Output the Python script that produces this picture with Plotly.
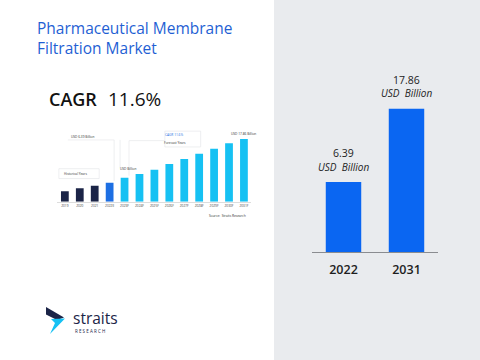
import math
import plotly.graph_objects as go

W, H = 480, 360

# ---- data ----
years = ["2022", "2031"]
market_size = [6.39, 17.86]          # USD Billion
cagr_text = "11.6%"

mini_years = ["2019", "2020", "2021", "2022E", "2023F", "2024F", "2025F",
              "2026F", "2027F", "2028F", "2029F", "2030F", "2031F"]
mini_values = [2.96, 3.82, 4.56, 5.41, 6.84, 7.89, 9.12, 10.74, 12.17,
               13.68, 15.10, 16.64, 17.86]

FONT = "Open Sans"


def px(x):
    return x / W


def py(y):
    return 1 - y / H


mini_colors = (["#1b2447"] * 3 + ["#1d6fe3"] + ["#16c1f3"] * (len(mini_years) - 4))

fig = go.Figure()

# main bars
fig.add_trace(go.Bar(
    x=years, y=market_size, marker=dict(color="#0a66f2", line=dict(width=0)),
    xaxis="x", yaxis="y", hoverinfo="skip", showlegend=False,
))

# mini chart bars
fig.add_trace(go.Bar(
    x=mini_years, y=mini_values, marker=dict(color=mini_colors, line=dict(width=0)),
    xaxis="x2", yaxis="y2", hoverinfo="skip", showlegend=False, width=0.52,
))

shapes = [
    dict(type="rect", xref="paper", yref="paper", x0=px(274), x1=1, y0=0, y1=1,
         fillcolor="#e9ebee", line=dict(width=0), layer="below"),
]


def path(points):
    return "M " + " L ".join(f"{px(a):.5f},{py(b):.5f}" for a, b in points) + " Z"


# logo chevron
shapes.append(dict(type="path", xref="paper", yref="paper",
                   path=path([(46, 307), (64, 317.5), (57, 320), (46, 314.5)]),
                   fillcolor="#1b2447", line=dict(width=0)))
shapes.append(dict(type="path", xref="paper", yref="paper",
                   path=path([(51, 319), (65, 318.5), (50, 334), (55, 323)]),
                   fillcolor="#16c1f3", line=dict(width=0)))

# faint callout guide lines in mini chart
line_style = dict(color="#e2e4e8", width=0.6)
shapes += [
    dict(type="line", xref="x2", yref="y2", x0=3.3, x1=3.3, y0=5.9, y1=17.6, line=line_style),
    dict(type="line", xref="x2", yref="y2", x0=0.2, x1=3.3, y0=17.6, y1=17.6, line=line_style),
    dict(type="line", xref="x2", yref="y2", x0=3.7, x1=3.7, y0=9.5, y1=17.6, line=line_style),
    dict(type="line", xref="x2", yref="y2", x0=4.3, x1=4.3, y0=7.4, y1=17.4, line=line_style),
    dict(type="line", xref="x2", yref="y2", x0=4.3, x1=6.7, y0=17.4, y1=17.4, line=line_style),
    dict(type="rect", xref="x2", yref="y2", x0=6.7, x1=9.1, y0=15.6, y1=20.1, line=line_style),
    dict(type="rect", xref="x2", yref="y2", x0=-0.4, x1=2.3, y0=6.6, y1=9.4, line=line_style),
]

annotations = [
    dict(text="Pharmaceutical Membrane<br>Filtration Market", xref="paper", yref="paper",
         x=px(35), y=py(15.5), xanchor="left", yanchor="top", align="left", showarrow=False,
         font=dict(family=FONT, size=15.5, color="#1f5fd4", weight=500)),
    dict(text="CAGR", xref="paper", yref="paper", x=px(47), y=py(98.5),
         xanchor="left", yanchor="middle", showarrow=False,
         font=dict(family=FONT, size=18, color="#111111", weight=600)),
    dict(text=cagr_text, xref="paper", yref="paper", x=px(106), y=py(98.5),
         xanchor="left", yanchor="middle", showarrow=False,
         font=dict(family=FONT, size=19, color="#111111")),
    dict(text="straits", xref="paper", yref="paper", x=px(71), y=py(317.5),
         xanchor="left", yanchor="middle", showarrow=False,
         font=dict(family=FONT, size=15.5, color="#1b2447", weight=500)),
    dict(text="R E S E A R C H", xref="paper", yref="paper", x=px(73), y=py(331),
         xanchor="left", yanchor="middle", showarrow=False,
         font=dict(family=FONT, size=4.5, color="#1b2447")),
]

# value labels on main bars (category index for x, log10 units for y)
for i, v in enumerate(market_size):
    annotations.append(dict(text=f"{v:.2f}", x=i, y=math.log10(v), xref="x", yref="y",
                            yanchor="middle", showarrow=False, yshift=29, borderpad=0,
                            font=dict(family=FONT, size=10.5, color="#222222")))
    annotations.append(dict(text="<i>USD  Billion</i>", x=i, y=math.log10(v), xref="x", yref="y",
                            yanchor="middle", showarrow=False, yshift=15.5, borderpad=0,
                            font=dict(family=FONT, size=10, color="#222222")))

# tiny callouts in mini chart (x as category index)
tiny = dict(family=FONT, size=3.2, color="#333333")
annotations += [
    dict(text=f"USD {market_size[0]:.2f} Billion", x=0.3, y=18.3, xref="x2", yref="y2",
         xanchor="left", showarrow=False, font=tiny),
    dict(text="Historical Years", x=-0.2, y=8.0, xref="x2", yref="y2",
         xanchor="left", showarrow=False, font=tiny),
    dict(text="USD Billion", x=4.2, y=9.3, xref="x2", yref="y2",
         showarrow=False, font=tiny),
    dict(text=f"CAGR {cagr_text}", x=7.3, y=19.0, xref="x2", yref="y2",
         showarrow=False, font=dict(family=FONT, size=3.2, color="#1d6fe3")),
    dict(text="Forecast Years", x=7.4, y=16.8, xref="x2", yref="y2",
         showarrow=False, font=tiny),
    dict(text=f"USD {market_size[1]:.2f} Billion", x=12, y=19.3, xref="x2", yref="y2",
         showarrow=False, font=tiny),
    dict(text="Source:  Straits Research", xref="paper", yref="paper", x=px(248), y=py(215.5),
         xanchor="right", showarrow=False, font=tiny),
]

fig.update_layout(
    width=W, height=H, margin=dict(l=0, r=0, t=0, b=0),
    paper_bgcolor="white", plot_bgcolor="rgba(0,0,0,0)",
    bargap=0.437, shapes=shapes, annotations=annotations,
    xaxis=dict(domain=[px(312), px(438)], range=[-0.5, 1.5], type="category",
               showline=True, linecolor="#8a8c90", linewidth=1, showgrid=False,
               ticks="", ticklabelstandoff=6,
               tickfont=dict(family=FONT, size=12.5, color="#1e1e1e", weight=600),
               fixedrange=True),
    yaxis=dict(domain=[py(252), py(40)], type="log", range=[0.3787, 1.6714],
               showgrid=False, showticklabels=False, zeroline=False, showline=False,
               fixedrange=True),
    xaxis2=dict(domain=[px(57.4), px(251.4)], range=[-0.5, 12.5], type="category",
                anchor="y2", showline=True, linecolor="#dddddd", linewidth=0.5,
                showgrid=False, ticks="", ticklabelstandoff=1,
                tickfont=dict(family=FONT, size=3.2, color="#444444"), fixedrange=True),
    yaxis2=dict(domain=[py(201.7), py(130)], range=[0, 20.43], anchor="x2",
                showgrid=False, showticklabels=False, zeroline=False, showline=False,
                fixedrange=True),
)

fig.write_html("out.html", config={"displayModeBar": False},
               post_script="document.body.style.margin='0';document.body.style.overflow='hidden';")
